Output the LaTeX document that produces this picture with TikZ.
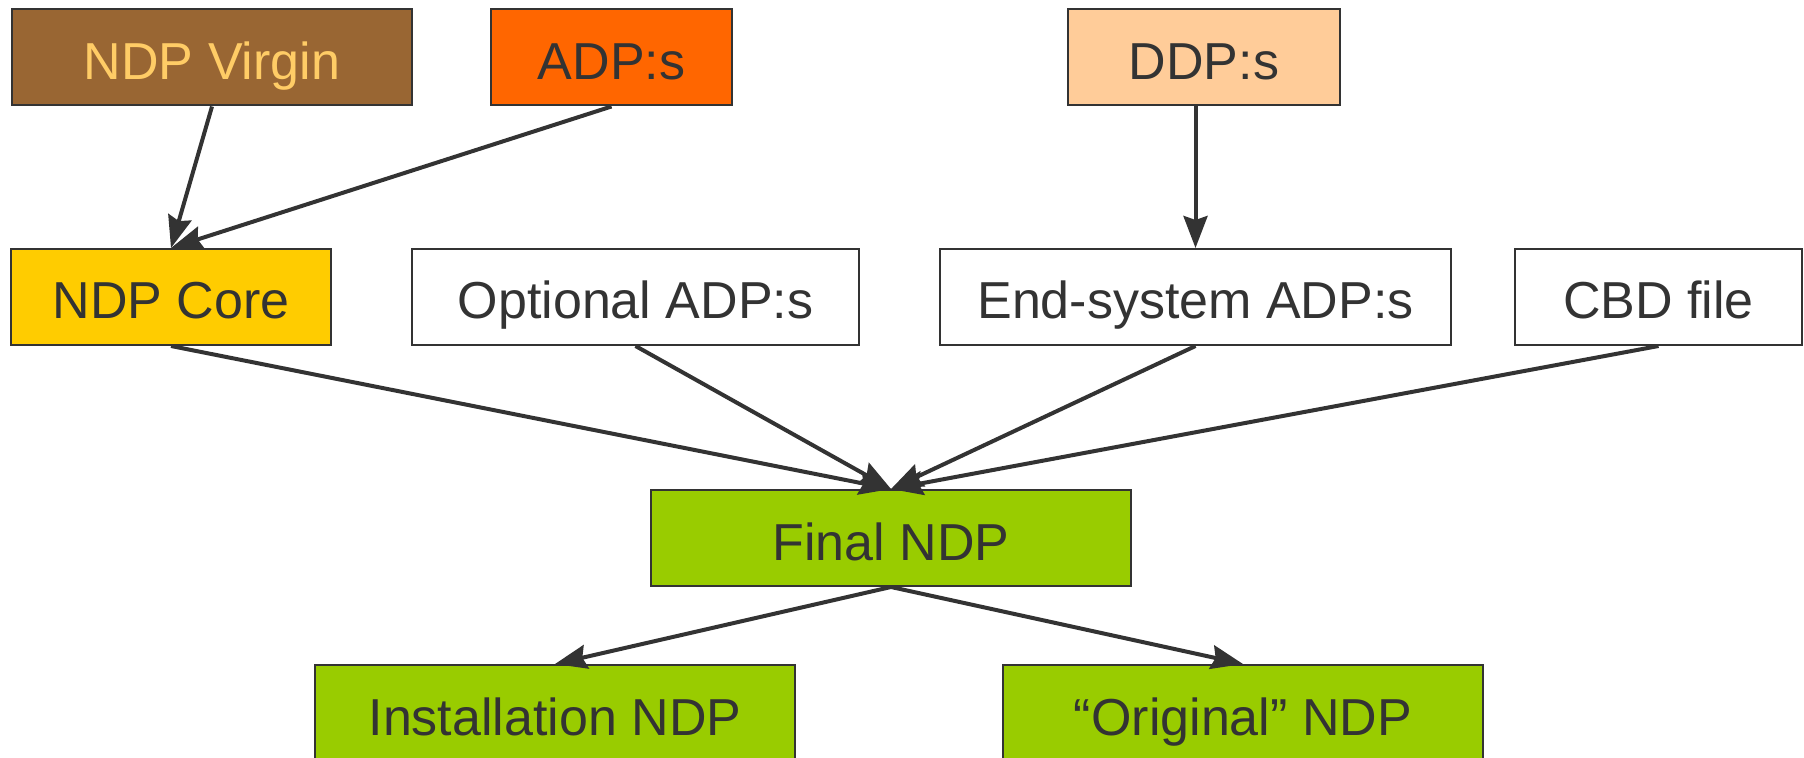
\documentclass[tikz,border=0pt]{standalone}
\usepackage{fontspec}
\setmainfont{Liberation Sans}
\usepackage{xcolor}
\usepackage{tikz}
\usetikzlibrary{positioning, arrows.meta}
\definecolor{darkline}{HTML}{333333}
\definecolor{virginbrown}{HTML}{996633}
\definecolor{virgintext}{HTML}{FFCC66}
\definecolor{adporange}{HTML}{FF6600}
\definecolor{ddppeach}{HTML}{FFCC99}
\definecolor{coreyellow}{HTML}{FFCC00}
\definecolor{ndpgreen}{HTML}{99CC00}

\tikzset{
    pkgbox/.style={draw=darkline, line width=1pt, fill=white, text=darkline,
        minimum height=48pt, inner sep=0pt, text height=22pt, text depth=0pt,
        font=\fontsize{26}{31}\selectfont},
    flow/.style={draw=darkline, line width=2pt,
        -{Stealth[length=16pt, width=12pt, inset=2pt]}}
}

\begin{document}
\begin{tikzpicture}[x=0.5pt, y=-0.5pt]
    \useasboundingbox (0,0) rectangle (1804,758);
    \node[pkgbox, fill=virginbrown, text=virgintext, minimum width=200pt] (virgin) at (212,57.5) {NDP Virgin};
    \node[pkgbox, fill=adporange, minimum width=120.5pt] (adps) at (611.5,57.5) {ADP:s};
    \node[pkgbox, fill=ddppeach, minimum width=136pt] (ddps) at (1204,57.5) {DDP:s};

    \node[pkgbox, fill=coreyellow, minimum width=160pt] (core) at (171,297) {NDP Core};
    \node[pkgbox, minimum width=223.5pt] (optional) at (635.5,297) {Optional ADP:s};
    \node[pkgbox, minimum width=255.5pt] (endsys) at (1195.5,297) {End-system ADP:s};
    \node[pkgbox, minimum width=143.5pt] (cbd) at (1658.5,297) {CBD file};

    \node[pkgbox, fill=ndpgreen, minimum width=240pt] (final) at (891,538) {Final NDP};
    \node[pkgbox, fill=ndpgreen, minimum width=240pt] (install) at (555,713) {Installation NDP};
    \node[pkgbox, fill=ndpgreen, minimum width=240pt] (original) at (1243,713) {``Original'' NDP};

    \draw[flow] (virgin.south) -- (core.north);
    \draw[flow] (adps.south) -- (core.north);
    \draw[flow] (endsys.north |- ddps.south) -- (endsys.north);

    \draw[flow] (core.south) -- (final.north);
    \draw[flow] (optional.south) -- (final.north);
    \draw[flow] (endsys.south) -- (final.north);
    \draw[flow] (cbd.south) -- (final.north);

    \draw[flow] (final.south) -- (install.north);
    \draw[flow] (final.south) -- (original.north);
\end{tikzpicture}
\end{document}
